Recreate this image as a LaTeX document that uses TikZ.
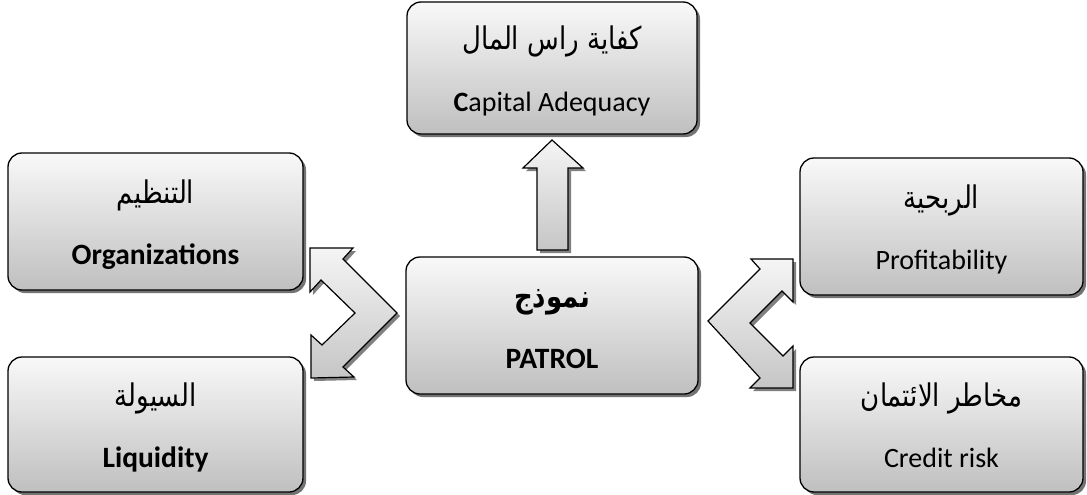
\documentclass[tikz,border=0pt]{standalone}
\usepackage{fontspec}
\usepackage{graphicx}
\setmainfont{Carlito}
\newfontfamily\arabicfont[Script=Arabic]{DejaVu Sans}
\TeXXeTstate=1
\usetikzlibrary{shadows}
\newcommand{\artall}[1]{\scalebox{1}[1.2]{#1}}
\begin{document}
\begin{tikzpicture}[x=1pt,y=-1pt,
  box/.style={draw=black, line width=1.3pt, rounded corners=14pt,
    top color=gray!5, bottom color=gray!50,
    drop shadow={shadow xshift=3pt, shadow yshift=-3pt, fill=black!55, opacity=1},
    inner sep=0pt},
  blockarrow/.style={draw=black, line width=1.2pt, line join=miter,
    top color=gray!8, bottom color=gray!45,
    drop shadow={shadow xshift=3pt, shadow yshift=-3pt, fill=black!50, opacity=1}},
  artext/.style={anchor=base, inner sep=0pt, font=\arabicfont\fontsize{26}{30}\selectfont},
  entext/.style={anchor=base, inner sep=0pt, font=\fontsize{28}{32}\selectfont},
  enbold/.style={anchor=base, inner sep=0pt, font=\bfseries\fontsize{29.5}{34}\selectfont},
]
\useasboundingbox (0,0) rectangle (1087,495);

% boxes
\node[box, minimum width=290pt, minimum height=132pt] (cap) at (552,68) {};
\node[box, minimum width=295pt, minimum height=137pt] (org) at (155.5,221.5) {};
\node[box, minimum width=295pt, minimum height=135pt] (liq) at (155.5,424.5) {};
\node[box, minimum width=292pt, minimum height=137pt] (pat) at (552,325.5) {};
\node[box, minimum width=283pt, minimum height=137pt] (pro) at (941.5,226.5) {};
\node[box, minimum width=283pt, minimum height=135pt] (cre) at (941.5,424.5) {};

% texts
\node[artext] (capar) at ([yshift=18pt]cap.center) {\artall{\beginR كفاية راس المال\endR}};
\node[entext] (capen) at ([yshift=-43pt]cap.center) {\textbf{C}apital Adequacy};
\node[artext] (orgar) at ([yshift=18pt]org.center) {\artall{\beginR التنظيم\endR}};
\node[enbold] (orgen) at ([yshift=-43pt]org.center) {Organizations};
\node[artext] (liqar) at ([yshift=18pt]liq.center) {\artall{\beginR السيولة\endR}};
\node[enbold] (liqen) at ([yshift=-43pt]liq.center) {Liquidity};
\node[artext] (patar) at ([yshift=18pt]pat.center) {\artall{\bfseries\beginR نموذج\endR}};
\node[enbold] (paten) at ([yshift=-43pt]pat.center) {PATROL};
\node[artext] (proar) at ([yshift=18pt]pro.center) {\artall{\beginR الربحية\endR}};
\node[entext] (proen) at ([yshift=-43pt]pro.center) {Profitability};
\node[artext] (crear) at ([yshift=18pt]cre.center) {\artall{\beginR مخاطر الائتمان\endR}};
\node[entext] (creen) at ([yshift=-43pt]cre.center) {Credit risk};

% up arrow
\path[blockarrow] (552,140) -- (583,168) -- (568,168) -- (568,250)
  -- (537,250) -- (537,168) -- (523,168) -- cycle;

% left chevron double arrow
\path[blockarrow] (310,248) -- (353,248) -- (343,259) -- (397,313)
  -- (343,367) -- (354,377) -- (311,378) -- (311,335) -- (322,345)
  -- (355,313) -- (321,280) -- (310,292) -- cycle;

% right chevron double arrow
\path[blockarrow] (708,321) -- (760,269) -- (751,259) -- (793,259)
  -- (793,302) -- (782,291) -- (750,323) -- (783,356) -- (793,346)
  -- (793,388) -- (750,388) -- (760,378) -- cycle;
\end{tikzpicture}
\end{document}
